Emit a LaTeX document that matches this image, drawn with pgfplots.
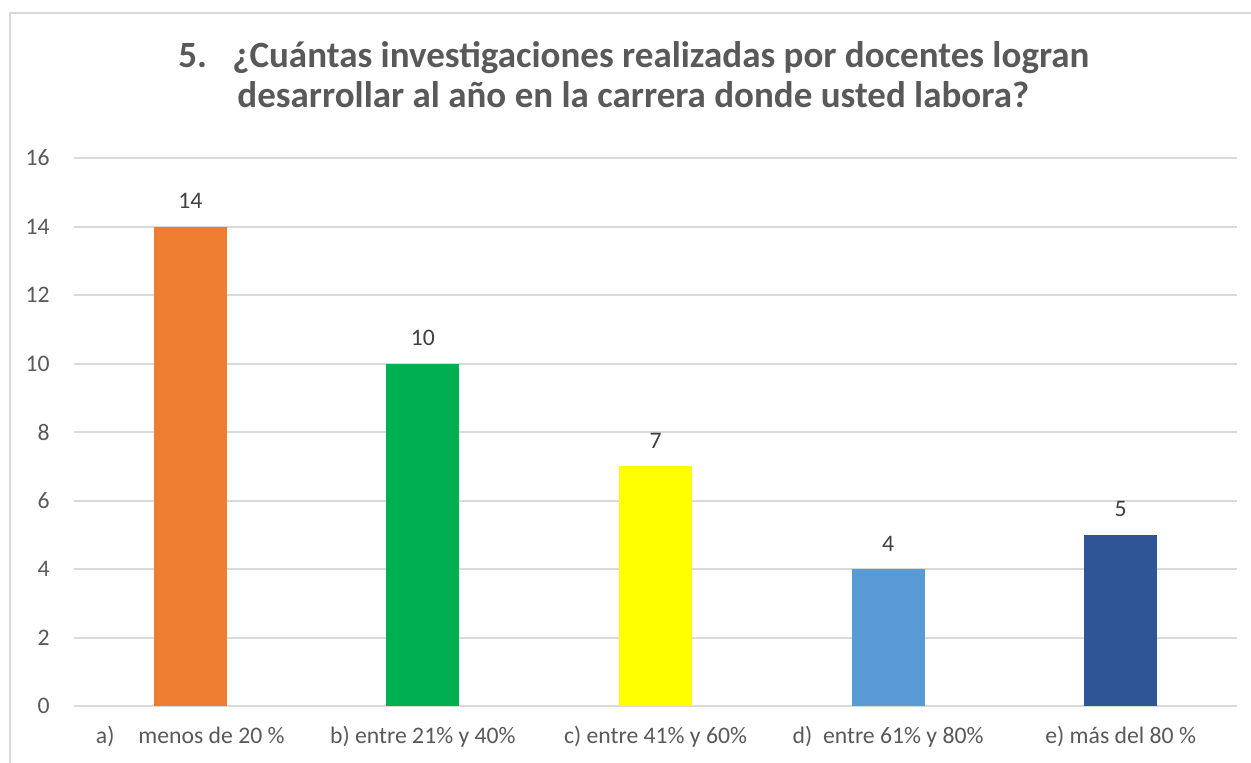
\documentclass[border=0pt]{standalone}
\usepackage{pgfplots}
\pgfplotsset{compat=1.18}
\usepackage{fontspec}
\setmainfont{Carlito}
\definecolor{txt}{HTML}{595959}
\definecolor{lbl}{HTML}{404040}
\definecolor{gridc}{HTML}{D9D9D9}
\definecolor{cA}{HTML}{ED7D31}
\definecolor{cB}{HTML}{00B050}
\definecolor{cC}{HTML}{FFFF00}
\definecolor{cD}{HTML}{5B9BD5}
\definecolor{cE}{HTML}{2F5597}
\begin{document}
\begin{tikzpicture}[x=1pt,y=1pt]
\path[use as bounding box] (0,0) rectangle (625.5,381);
\clip (0,0) rectangle (625.5,381);
\fill[white] (0,0) rectangle (625.5,381);
\draw[gridc, line width=1pt] (5,-20) rectangle (700,374.5);
\begin{axis}[
  at={(37pt,28pt)}, anchor=south west,
  scale only axis, width=581.5pt, height=274pt,
  xmin=-0.5, xmax=4.5, ymin=0, ymax=16,
  ytick={0,2,...,16},
  xtick={0,1,2,3,4},
  xticklabels={{a)\hspace{12pt}menos de 20 \%},{b) entre 21\% y 40\%},{c) entre 41\% y 60\%},{d)\ \ entre 61\% y 80\%},{e) más del 80 \%}},
  axis line style={draw=none},
  major tick length=0pt,
  ymajorgrids,
  grid style={gridc, line width=1pt},
  /pgf/number format/assume math mode=true,
  tick label style={font=\fontsize{11.85}{14}\selectfont, text=txt, inner sep=0pt},
  yticklabel style={anchor=east, xshift=-12pt},
  xticklabel style={anchor=base, yshift=-18.5pt},
  ybar, bar width=36.5pt,
  nodes near coords,
  nodes near coords style={font=\fontsize{11.85}{14}\selectfont, text=lbl, anchor=base, yshift=9pt, inner sep=0pt},
  axis on top=false,
]
\addplot[fill=cA, draw=none, bar shift=0pt] coordinates {(0,14)};
\addplot[fill=cB, draw=none, bar shift=0pt] coordinates {(1,10)};
\addplot[fill=cC, draw=none, bar shift=0pt] coordinates {(2,7)};
\addplot[fill=cD, draw=none, bar shift=0pt] coordinates {(3,4)};
\addplot[fill=cE, draw=none, bar shift=0pt] coordinates {(4,5)};
\end{axis}
\begin{scope}[every node/.style={inner sep=0pt, text=txt, font=\fontsize{18.5}{22}\selectfont\bfseries}]
\node[anchor=base west] at (89,347) {5.};
\node[anchor=base west] at (116,347) {¿Cuántas investigaciones realizadas por docentes logran};
\node[anchor=base west] at (118.5,327) {desarrollar al año en la carrera donde usted labora?};
\end{scope}
\end{tikzpicture}
\end{document}
